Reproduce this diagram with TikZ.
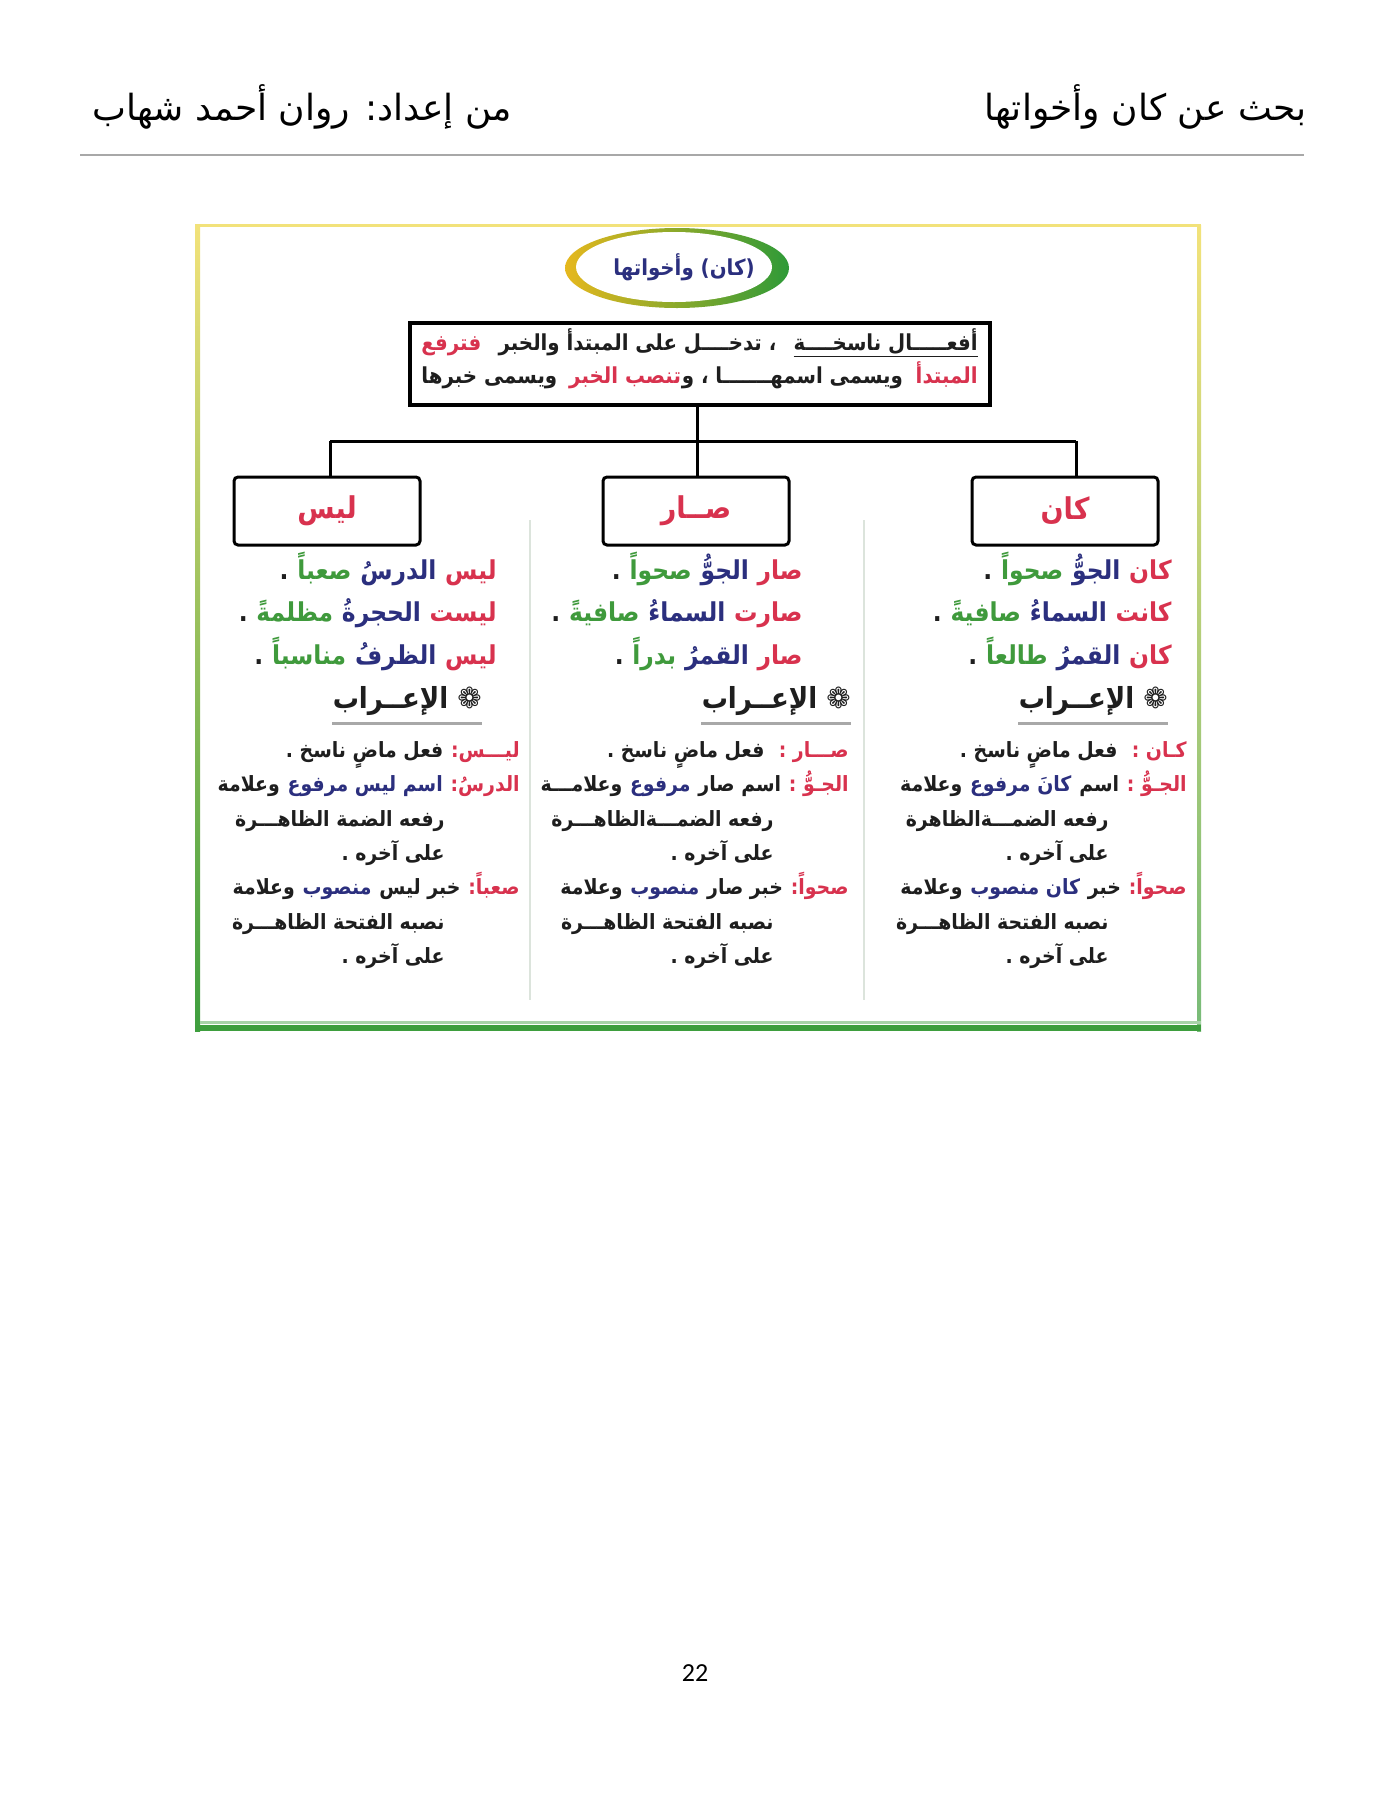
\documentclass[tikz,border=0pt]{standalone}
\usepackage{fontspec}
\usetikzlibrary{calc}
\TeXXeTstate=1
\newfontfamily\arabicfont[Script=Arabic]{DejaVu Sans}
\newfontfamily\arabiccond[Script=Arabic, FakeStretch=0.9]{DejaVu Sans}
\newfontfamily\pagefont{Carlito}
\newfontfamily\symfont{DejaVu Sans}
\definecolor{kred}{HTML}{D8324E}
\definecolor{knavy}{HTML}{2B2F7E}
\definecolor{kgreen}{HTML}{3F9A3C}
\definecolor{ktext}{HTML}{1E1E1E}
\definecolor{ringyellow}{HTML}{E6B81E}
\definecolor{ringgreen}{HTML}{2E9A38}
\definecolor{frameyellow}{HTML}{F2E27A}
\definecolor{framegreen}{HTML}{3E9E3E}
\definecolor{divider}{HTML}{DCE4DC}
\definecolor{headrule}{HTML}{A8A8A8}
\newcommand{\AR}[1]{\beginR #1\endR}
\def\gap{4pt}
% \after{style}{name}{previous node}{text} : word group placed to the left of the previous one
\newcommand{\after}[4]{\node[#1] (#2) at ([xshift=-\gap]#3.base west) {#4};}
\tikzset{
  exline/.style={inner sep=0pt, anchor=base east, text=ktext, font=\arabiccond\bfseries\fontsize{13}{15}\selectfont},
  anline/.style={inner sep=0pt, anchor=base east, text=ktext, font=\arabiccond\bfseries\fontsize{10.5}{13}\selectfont},
  hdline/.style={inner sep=0pt, anchor=base east, text=ktext, font=\arabiccond\bfseries\fontsize{14.5}{17}\selectfont},
  boxtext/.style={inner sep=0pt, anchor=base east, text=ktext, font=\arabiccond\bfseries\fontsize{11}{13}\selectfont},
  hdrule/.style={headrule, line width=1.2pt},
  verbbox/.style={draw, line width=1.5pt, rounded corners=2pt, minimum width=93pt, minimum height=34pt,
    fill=white, text=kred, font=\arabiccond\bfseries\fontsize{15}{17}\selectfont},
  conn/.style={line width=1.5pt},
  header/.style={inner sep=0pt, font=\arabicfont\fontsize{18}{20}\selectfont},
}
\begin{document}
\begin{tikzpicture}[x=0.5pt,y=-0.5pt]
\useasboundingbox (0,0) rectangle (1390,1800);
\fill[white] (0,0) rectangle (1390,1800);

% header
\node[header, anchor=east] (htitle) at (1307,107) {\AR{بحث عن كان وأخواتها}};
\node[header, anchor=west] (hauthor) at (92,107) {\AR{من إعداد: روان أحمد شهاب}};
\draw[headrule, line width=1.2pt] (80,155) -- (1304,155);

% frame
\draw[frameyellow, line width=1.5pt] (195,225) -- (1201,225);
\shade[top color=frameyellow, bottom color=framegreen] (195,225) rectangle (200,1031);
\shade[top color=frameyellow, bottom color=framegreen!70] (1197,225) rectangle (1201,1031);
\fill[framegreen!45] (200,1021) rectangle (1201,1024);
\fill[framegreen] (200,1025) rectangle (1201,1031);

% column dividers
\draw[divider, line width=0.6pt] (530,520) -- (530,1000);
\draw[divider, line width=0.6pt] (864,520) -- (864,1000);

% title ring
\shade[left color=ringyellow, right color=ringgreen] (677,268) ellipse [x radius=56pt, y radius=20pt];
\fill[white] (674,267) ellipse [x radius=49pt, y radius=17.5pt];
\node[inner sep=0pt, text=knavy, font=\arabiccond\bfseries\fontsize{11}{12}\selectfont] (ringtext) at (684,267) {\AR{(كان) وأخواتها}};

% definition box
\node[draw, line width=2pt, fill=white, minimum width=290pt, minimum height=41pt, inner sep=0pt] (topbox) at (700,364) {};
\node[boxtext] (d1a) at (978,350) {\underline{\hbox{\beginR أفعـــــال ناسخــــة\endR}}};
\node[boxtext, anchor=base west, text=kred] (d1c) at (421,350) {\AR{فترفع}};
\node[boxtext, anchor=base] (d1b) at ($(d1a.base west)!0.5!(d1c.base east)$) {\AR{، تدخــــل على المبتدأ والخبر}};
\node[boxtext, text=kred] (d2a) at (978,383) {\AR{المبتدأ}};
\def\gap{6pt}
\after{boxtext}{d2b}{d2a}{\AR{ويسمى اسمهـــــــا ، و}}
\node[boxtext, text=kred] (d2c) at (d2b.base west) {\AR{تنصب الخبر}};
\node[boxtext, anchor=base west] (d2d) at (421,383) {\AR{ويسمى خبرها}};

% verb boxes
\node[verbbox] (boxL) at (327,511) {\AR{ليس}};
\node[verbbox] (boxM) at (696,511) {\AR{صــار}};
\node[verbbox] (boxK) at (1065,511) {\AR{كان}};

% connectors
\coordinate (busL) at (330,441);
\coordinate (busM) at (697,441);
\coordinate (busR) at (1076,441);
\draw[conn] (topbox.south -| busM) -- (busM);
\draw[conn] (busL) -- (busR);
\draw[conn] (busL) -- (busL |- boxL.north);
\draw[conn] (busM) -- (busM |- boxM.north);
\draw[conn] (busR) -- (busR |- boxK.north);

% ===== examples =====
\def\gap{4pt}
% kana
\node[exline, text=kred] (kex1a) at (1172,579) {\AR{كان}};
\after{exline, text=knavy}{kex1b}{kex1a}{\AR{الجوُّ}}
\after{exline, text=kgreen}{kex1c}{kex1b}{\AR{صحواً}}
\after{exline}{kex1d}{kex1c}{.}
\node[exline, text=kred] (kex2a) at (1172,621) {\AR{كانت}};
\after{exline, text=knavy}{kex2b}{kex2a}{\AR{السماءُ}}
\after{exline, text=kgreen}{kex2c}{kex2b}{\AR{صافيةً}}
\after{exline}{kex2d}{kex2c}{.}
\node[exline, text=kred] (kex3a) at (1172,664) {\AR{كان}};
\after{exline, text=knavy}{kex3b}{kex3a}{\AR{القمرُ}}
\after{exline, text=kgreen}{kex3c}{kex3b}{\AR{طالعاً}}
\after{exline}{kex3d}{kex3c}{.}
% sara
\node[exline, text=kred] (sex1a) at (803,579) {\AR{صار}};
\after{exline, text=knavy}{sex1b}{sex1a}{\AR{الجوُّ}}
\after{exline, text=kgreen}{sex1c}{sex1b}{\AR{صحواً}}
\after{exline}{sex1d}{sex1c}{.}
\node[exline, text=kred] (sex2a) at (803,621) {\AR{صارت}};
\after{exline, text=knavy}{sex2b}{sex2a}{\AR{السماءُ}}
\after{exline, text=kgreen}{sex2c}{sex2b}{\AR{صافيةً}}
\after{exline}{sex2d}{sex2c}{.}
\node[exline, text=kred] (sex3a) at (803,664) {\AR{صار}};
\after{exline, text=knavy}{sex3b}{sex3a}{\AR{القمرُ}}
\after{exline, text=kgreen}{sex3c}{sex3b}{\AR{بدراً}}
\after{exline}{sex3d}{sex3c}{.}
% laysa
\node[exline, text=kred] (lex1a) at (497,579) {\AR{ليس}};
\after{exline, text=knavy}{lex1b}{lex1a}{\AR{الدرسُ}}
\after{exline, text=kgreen}{lex1c}{lex1b}{\AR{صعباً}}
\after{exline}{lex1d}{lex1c}{.}
\node[exline, text=kred] (lex2a) at (497,621) {\AR{ليست}};
\after{exline, text=knavy}{lex2b}{lex2a}{\AR{الحجرةُ}}
\after{exline, text=kgreen}{lex2c}{lex2b}{\AR{مظلمةً}}
\after{exline}{lex2d}{lex2c}{.}
\node[exline, text=kred] (lex3a) at (497,664) {\AR{ليس}};
\after{exline, text=knavy}{lex3b}{lex3a}{\AR{الظرفُ}}
\after{exline, text=kgreen}{lex3c}{lex3b}{\AR{مناسباً}}
\after{exline}{lex3d}{lex3c}{.}

% ===== headings =====
\node[hdline] (khd) at (1168,708) {\AR{{\symfont ❁} الإعــراب}};
\draw[hdrule] ([yshift=-4pt]khd.south west) -- ([yshift=-4pt]khd.south east);
\node[hdline] (shd) at (851,708) {\AR{{\symfont ❁} الإعــراب}};
\draw[hdrule] ([yshift=-4pt]shd.south west) -- ([yshift=-4pt]shd.south east);
\node[hdline] (lhd) at (482,708) {\AR{{\symfont ❁} الإعــراب}};
\draw[hdrule] ([yshift=-4pt]lhd.south west) -- ([yshift=-4pt]lhd.south east);

% ===== analysis =====
\def\gap{3.5pt}
% kana
\node[anline, text=kred] (kan1a) at (1187,757) {\AR{كـان :}};
\after{anline}{kan1b}{kan1a}{\AR{\ فعل ماضٍ ناسخ .}}
\node[anline, text=kred] (kan2a) at (1187,791) {\AR{الجـوُّ :}};
\after{anline}{kan2b}{kan2a}{\AR{اسم}}
\after{anline, text=knavy}{kan2c}{kan2b}{\AR{كانَ مرفوع}}
\after{anline}{kan2d}{kan2c}{\AR{وعلامة}}
\node[anline] (kan3) at (1109,826) {\AR{رفعه الضمـــةالظاهرة}};
\node[anline] (kan4) at (1109,860) {\AR{على آخره .}};
\node[anline, text=kred] (kan5a) at (1187,894) {\AR{صحواً:}};
\after{anline}{kan5b}{kan5a}{\AR{خبر}}
\after{anline, text=knavy}{kan5c}{kan5b}{\AR{كان منصوب}}
\after{anline}{kan5d}{kan5c}{\AR{وعلامة}}
\node[anline] (kan6) at (1109,929) {\AR{نصبه الفتحة الظاهـــرة}};
\node[anline] (kan7) at (1109,963) {\AR{على آخره .}};
% sara
\node[anline, text=kred] (san1a) at (849,757) {\AR{صـــار :}};
\after{anline}{san1b}{san1a}{\AR{\ فعل ماضٍ ناسخ .}}
\node[anline, text=kred] (san2a) at (849,791) {\AR{الجـوُّ :}};
\after{anline}{san2b}{san2a}{\AR{اسم صار}}
\after{anline, text=knavy}{san2c}{san2b}{\AR{مرفوع}}
\after{anline}{san2d}{san2c}{\AR{وعلامـــة}}
\node[anline] (san3) at (774,826) {\AR{رفعه الضمـــةالظاهـــرة}};
\node[anline] (san4) at (774,860) {\AR{على آخره .}};
\node[anline, text=kred] (san5a) at (849,894) {\AR{صحواً:}};
\after{anline}{san5b}{san5a}{\AR{خبر صار}}
\after{anline, text=knavy}{san5c}{san5b}{\AR{منصوب}}
\after{anline}{san5d}{san5c}{\AR{وعلامة}}
\node[anline] (san6) at (774,929) {\AR{نصبه الفتحة الظاهـــرة}};
\node[anline] (san7) at (774,963) {\AR{على آخره .}};
% laysa
\node[anline, text=kred] (lan1a) at (520,757) {\AR{ليـــس:}};
\after{anline}{lan1b}{lan1a}{\AR{فعل ماضٍ ناسخ .}}
\node[anline, text=kred] (lan2a) at (520,791) {\AR{الدرسُ:}};
\after{anline, text=knavy}{lan2b}{lan2a}{\AR{اسم ليس مرفوع}}
\after{anline}{lan2c}{lan2b}{\AR{وعلامة}}
\node[anline] (lan3) at (445,826) {\AR{رفعه الضمة الظاهـــرة}};
\node[anline] (lan4) at (445,860) {\AR{على آخره .}};
\node[anline, text=kred] (lan5a) at (520,894) {\AR{صعباً:}};
\after{anline}{lan5b}{lan5a}{\AR{خبر ليس}}
\after{anline, text=knavy}{lan5c}{lan5b}{\AR{منصوب}}
\after{anline}{lan5d}{lan5c}{\AR{وعلامة}}
\node[anline] (lan6) at (445,929) {\AR{نصبه الفتحة الظاهـــرة}};
\node[anline] (lan7) at (445,963) {\AR{على آخره .}};

% page number
\node[inner sep=0pt, font=\pagefont\fontsize{13}{15}\selectfont] (pagenum) at (695,1673) {22};
\end{tikzpicture}
\end{document}
